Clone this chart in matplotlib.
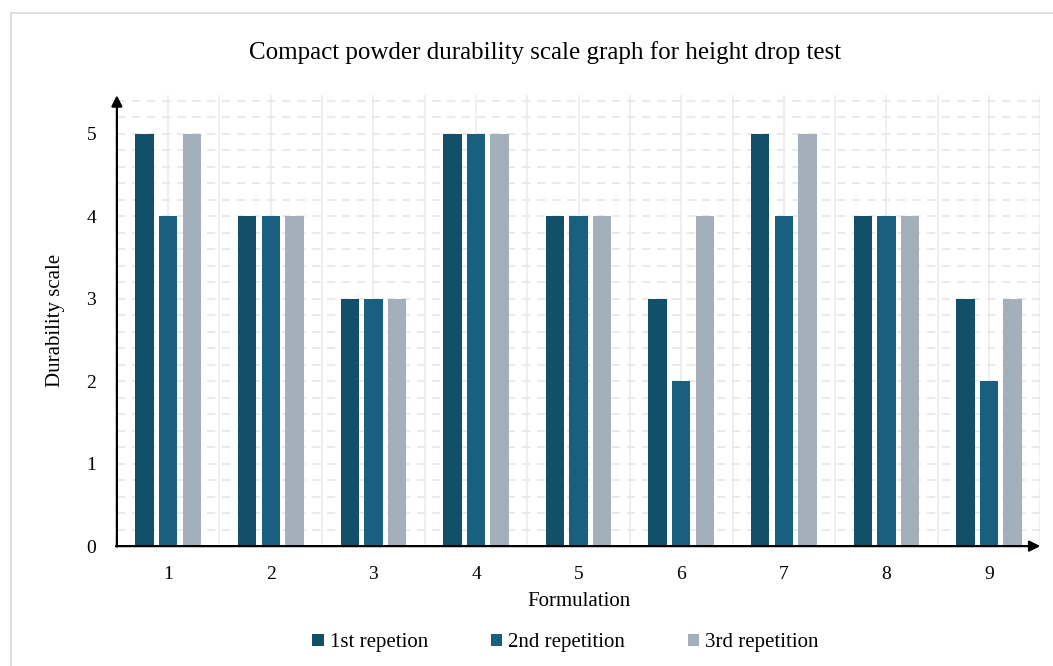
import numpy as np
import matplotlib.pyplot as plt
from matplotlib.patches import Rectangle
from matplotlib.ticker import MultipleLocator

plt.rcParams['font.family'] = ['Liberation Serif', 'DejaVu Serif']

# data
formulations = [1, 2, 3, 4, 5, 6, 7, 8, 9]
rep1 = [5, 4, 3, 5, 4, 3, 5, 4, 3]
rep2 = [4, 4, 3, 5, 4, 2, 4, 4, 2]
rep3 = [5, 4, 3, 5, 4, 4, 5, 4, 3]
series_names = ['1st repetion', '2nd repetition', '3rd repetition']
colors = ['#124f69', '#185f80', '#a3afbb']

fig = plt.figure(figsize=(10.53, 6.66), dpi=100)
ax = fig.add_axes([0.111, 0.180, 0.877, 0.677])

# outer frame, cut at right/bottom like the screenshot
fig.patches.append(Rectangle((11 / 1053, -0.05), 1.2, 1 - 13 / 666 + 0.05,
                             transform=fig.transFigure, fill=False,
                             edgecolor='#d9d9d9', linewidth=1.2))

x = np.array(formulations)
width = 0.18
offs = [-0.23, 0.0, 0.23]
for vals, off, c, name in zip([rep1, rep2, rep3], offs, colors, series_names):
    ax.bar(x + off, vals, width, color=c, label=name, zorder=3)

ax.set_xlim(0.5, 9.5)
ax.set_ylim(0, 5.47)
ax.set_xticks(formulations)
ax.xaxis.set_minor_locator(MultipleLocator(0.5))
ax.set_yticks(range(0, 6))
ax.yaxis.set_minor_locator(MultipleLocator(0.2))
ax.grid(axis='x', which='both', color='#eeeeee', linewidth=1.3, zorder=0)
ax.grid(axis='y', which='both', color='#e6e6e6', linewidth=1.2,
        linestyle=(0, (5, 4)), zorder=0)
ax.tick_params(which='both', length=0, labelsize=14)
ax.tick_params(axis='x', pad=14)
ax.tick_params(axis='y', pad=15)
for s in ax.spines.values():
    s.set_visible(False)

# axis arrows
arrow = dict(arrowstyle='-|>', lw=1.6, color='black', mutation_scale=16,
             shrinkA=0, shrinkB=0)
ax.annotate('', xy=(1.0, 0), xytext=(-0.001, 0), xycoords='axes fraction',
            arrowprops=arrow, annotation_clip=False)
ax.annotate('', xy=(0, 1.0), xytext=(0, -0.001), xycoords='axes fraction',
            arrowprops=arrow, annotation_clip=False)

ax.set_xlabel('Formulation', fontsize=15, labelpad=7)
ax.set_ylabel('Durability scale', fontsize=15, labelpad=15)
fig.text(0.518, 0.921, 'Compact powder durability scale graph for height drop test',
         ha='center', va='center', fontsize=18)

fig.legend(loc='center', bbox_to_anchor=(0.537, 0.035), ncol=3, frameon=False,
           fontsize=15, handlelength=0.55, handleheight=0.55, handletextpad=0.3,
           columnspacing=3.0)

fig.savefig('out.png', dpi=100)
